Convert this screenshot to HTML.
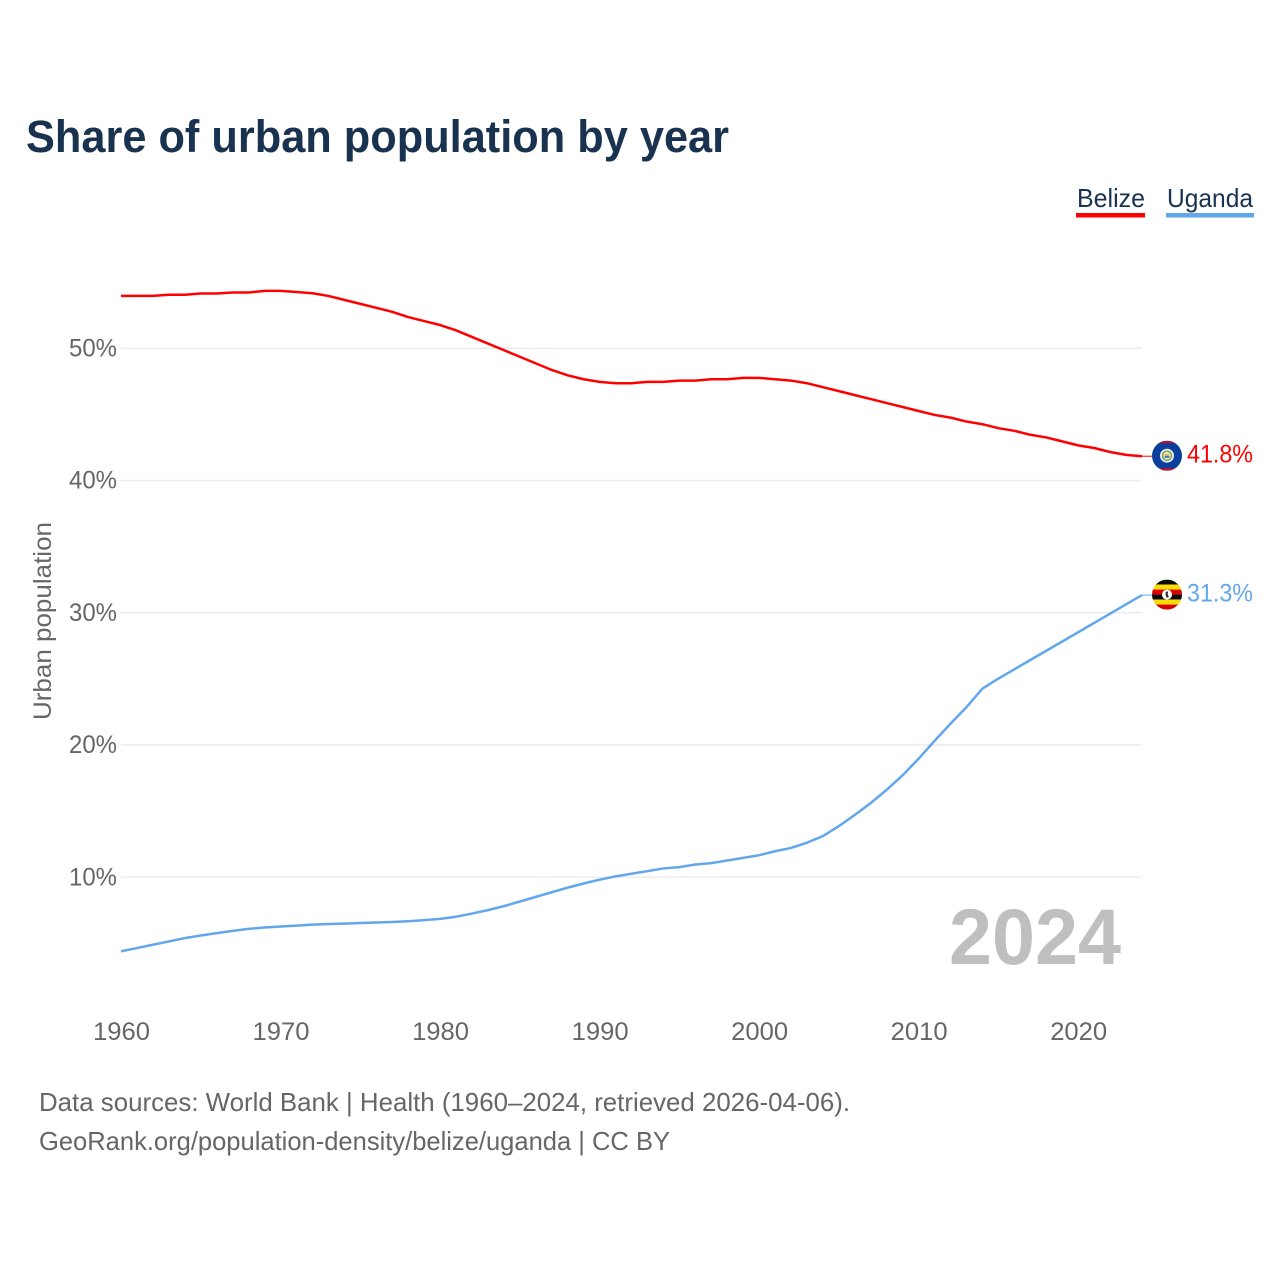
<!DOCTYPE html>
<html lang="en">
<head>
<meta charset="utf-8">
<title>Share of urban population by year</title>
<style>
html,body{margin:0;padding:0;background:#fff;width:1280px;height:1280px;overflow:hidden}
svg{display:block}
text{font-family:"Liberation Sans",sans-serif}
</style>
</head>
<body>
<svg id="chart" width="1280" height="1280" viewBox="0 0 1280 1280" xmlns="http://www.w3.org/2000/svg">
  <defs>
    <clipPath id="flag-clip-belize"><circle cx="0" cy="0" r="15"/></clipPath>
    <clipPath id="flag-clip-uganda"><circle cx="0" cy="0" r="15"/></clipPath>
  </defs>
  <rect width="1280" height="1280" fill="#fff"/>
  <text x="26" y="152" font-size="45" font-weight="700" fill="#18324f" textLength="703" lengthAdjust="spacingAndGlyphs">Share of urban population by year</text>

  <g>
    <text x="1077" y="207" font-size="26" fill="#18324f" textLength="68" lengthAdjust="spacingAndGlyphs">Belize</text>
    <rect x="1076" y="213" width="69" height="4.5" fill="#ff0000"/>
  </g>
  <g>
    <text x="1167" y="207" font-size="26" fill="#18324f" textLength="86" lengthAdjust="spacingAndGlyphs">Uganda</text>
    <rect x="1166" y="213" width="88" height="4.5" fill="#62a7ec"/>
  </g>

  <text transform="translate(51,621) rotate(-90)" text-anchor="middle" font-size="25" fill="#666" textLength="198" lengthAdjust="spacingAndGlyphs">Urban population</text>

  <g id="grid"></g>
  <g id="y-ticks"></g>
  <g id="x-ticks"></g>

  <text x="949" y="964" font-size="79" font-weight="700" fill="#bfbfbf" textLength="172" lengthAdjust="spacingAndGlyphs">2024</text>

  <g id="series"></g>

  <g id="flag-belize">
    <g clip-path="url(#flag-clip-belize)">
      <rect x="-15" y="-15" width="30" height="30" fill="#0b3f9e"/>
      <rect x="-15" y="-15" width="30" height="2.5" fill="#b5122e"/>
      <rect x="-15" y="12.5" width="30" height="2.5" fill="#b5122e"/>
      <circle r="7" fill="#e8f0e0"/>
      <circle r="5.2" fill="#6f9a56"/>
      <circle r="3.8" fill="#f4f4ea"/>
      <rect x="-2.4" y="-2.2" width="4.8" height="2.2" fill="#f2c230"/>
      <rect x="-2.4" y="0" width="4.8" height="2.2" fill="#3f78c0"/>
    </g>
  </g>
  <g id="flag-uganda">
    <g clip-path="url(#flag-clip-uganda)">
      <rect x="-15" y="-15" width="30" height="5" fill="#0a0a0a"/>
      <rect x="-15" y="-10" width="30" height="5" fill="#fcdc04"/>
      <rect x="-15" y="-5" width="30" height="5" fill="#d90000"/>
      <rect x="-15" y="0" width="30" height="5" fill="#0a0a0a"/>
      <rect x="-15" y="5" width="30" height="5" fill="#fcdc04"/>
      <rect x="-15" y="10" width="30" height="5" fill="#d90000"/>
      <circle r="5" fill="#fff"/>
      <path d="M-1.2 -3 L1 -3 L0.6 0 L2 2.6 L-0.4 3 L-1.4 0 Z" fill="#222"/>
    </g>
  </g>
  <g id="end-labels"></g>

  <text x="39" y="1111" font-size="26" fill="#666" textLength="811" lengthAdjust="spacingAndGlyphs">Data sources: World Bank | Health (1960–2024, retrieved 2026-04-06).</text>
  <text x="39" y="1150" font-size="26" fill="#666" textLength="631" lengthAdjust="spacingAndGlyphs">GeoRank.org/population-density/belize/uganda | CC BY</text>
</svg>
<script>
const startYear = 1960;
const belizeValues = [53.96,53.96,53.96,54.05,54.05,54.14,54.14,54.22,54.22,54.34,54.34,54.26,54.16,53.96,53.66,53.36,53.06,52.76,52.36,52.06,51.76,51.36,50.86,50.36,49.86,49.36,48.86,48.36,47.96,47.66,47.46,47.36,47.36,47.46,47.46,47.56,47.56,47.66,47.66,47.76,47.76,47.66,47.56,47.36,47.06,46.76,46.46,46.16,45.86,45.56,45.26,44.96,44.76,44.46,44.26,43.96,43.76,43.46,43.26,42.96,42.66,42.46,42.16,41.94,41.84];
const ugandaValues = [4.4,4.65,4.9,5.15,5.4,5.6,5.78,5.95,6.1,6.2,6.28,6.35,6.42,6.47,6.5,6.54,6.58,6.62,6.68,6.76,6.86,7.02,7.26,7.52,7.82,8.17,8.52,8.87,9.22,9.53,9.82,10.07,10.27,10.47,10.67,10.77,10.97,11.07,11.27,11.47,11.67,11.97,12.22,12.62,13.12,13.87,14.72,15.62,16.62,17.72,18.97,20.32,21.62,22.87,24.27,25.03,25.73,26.43,27.13,27.83,28.53,29.23,29.93,30.64,31.34];
const xTickYears = [1960,1970,1980,1990,2000,2010,2020];
const yTickValues = [10,20,30,40,50];

const SVGNS = 'http://www.w3.org/2000/svg';
function xScale(year){ return 121 + (year - 1960) * (1142 - 121) / 64; }
function yScale(v){ return 877.3 - (v - 10) * 13.225; }
function make(tag, attrs, parent){
  const el = document.createElementNS(SVGNS, tag);
  for (const k in attrs) el.setAttribute(k, attrs[k]);
  parent.appendChild(el);
  return el;
}
const grid = document.getElementById('grid');
const yTicks = document.getElementById('y-ticks');
const xTicks = document.getElementById('x-ticks');
const seriesGroup = document.getElementById('series');
const endLabels = document.getElementById('end-labels');

yTickValues.forEach(function(v){
  const line = make('line', {x1:121, x2:1142, y1:yScale(v), y2:yScale(v), stroke:'#ececec', 'stroke-width':1.5}, grid);
  
  
  const t = make('text', {x:117, y:yScale(v)+8, 'text-anchor':'end', 'font-size':25, fill:'#666', textLength:48, lengthAdjust:'spacingAndGlyphs'}, yTicks);
  
  
  t.textContent = v + '%';
});
xTickYears.forEach(function(y){
  const t = make('text', {x:xScale(y)+0.5, y:1040, 'text-anchor':'middle', 'font-size':25, fill:'#666', textLength:57, lengthAdjust:'spacingAndGlyphs'}, xTicks);
  
  
  t.textContent = y;
});
function linePath(values){
  return values.map(function(v, i){
    return (i ? 'L' : 'M') + xScale(startYear + i).toFixed(2) + ' ' + yScale(v).toFixed(2);
  }).join(' ');
}
function drawSeries(values, color, key){
  const last = values[values.length - 1];
  const lastY = yScale(last);
  const lastX = xScale(startYear + values.length - 1);
  const p = make('path', {d:linePath(values), fill:'none', stroke:color, 'stroke-width':2.5, 'stroke-linejoin':'round'}, seriesGroup);
  
  
  const c = make('line', {x1:lastX, x2:lastX+12, y1:lastY, y2:lastY, stroke:color, 'stroke-width':1}, seriesGroup);
  
  
  document.getElementById('flag-' + key).setAttribute('transform', 'translate(1167,' + (lastY - 0.5).toFixed(2) + ')');
  const t = make('text', {x:1187, y:lastY+6.5, 'font-size':25, fill:color, textLength:66, lengthAdjust:'spacingAndGlyphs'}, endLabels);
  
  
  t.textContent = last.toFixed(1) + '%';
}
drawSeries(belizeValues, '#ff0000', 'belize');
drawSeries(ugandaValues, '#62a7ec', 'uganda');
</script>
</body>
</html>
